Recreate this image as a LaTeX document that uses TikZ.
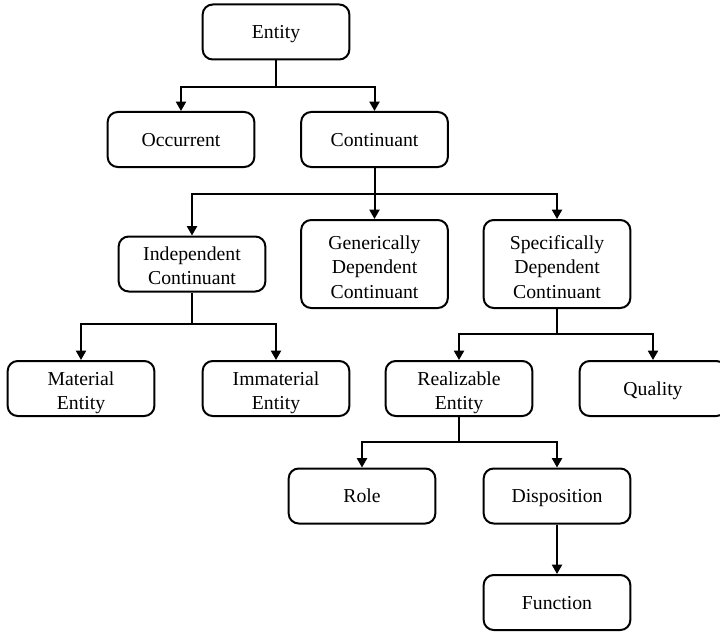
\documentclass[tikz,border=0pt]{standalone}
\usepackage{fontspec}
\setmainfont{Liberation Serif}
\usetikzlibrary{arrows.meta}
\begin{document}
\begin{tikzpicture}[x=0.75pt,y=-0.75pt,
  % text height/depth fix where the baselines sit inside each box
  box/.style={draw, line width=1.5pt, rounded corners=7.5pt, align=center,
    minimum width=110pt, minimum height=41.25pt, inner xsep=2pt, inner ysep=0pt,
    font=\fontsize{14.8}{18.15}\selectfont,
    text height=9.8pt, text depth=0pt},
  multi/.style={box, text height=31.3pt},
  tallbox/.style={box, text height=51pt, minimum height=66pt},
  link/.style={line width=1.5pt},
  arr/.style={link, -{Triangle[length=7pt,width=7.5pt]}}]
\useasboundingbox (0,0) rectangle (720,631);
% nodes
\node[box] (entity) at (276,32) {Entity};
\node[box] (occ) at (181,139.5) {Occurrent};
\node[box] (cont) at (374.5,139.5) {Continuant};
\node[multi] (ind) at (192,264) {Independent\\Continuant};
\node[tallbox] (gen) at (374.5,264) {Generically\\Dependent\\Continuant};
\node[tallbox] (spec) at (557,264) {Specifically\\Dependent\\Continuant};
\node[multi] (mat) at (81,388.5) {Material\\Entity};
\node[multi] (imm) at (276,388.5) {Immaterial\\Entity};
\node[multi] (real) at (459,388.5) {Realizable\\Entity};
\node[box] (qual) at (653,388.5) {Quality};
\node[box] (role) at (362,496) {Role};
\node[box] (disp) at (557,496) {Disposition};
\node[box] (func) at (557,602.5) {Function};
% branching points
\coordinate (j1) at (276,87);
\coordinate (j2) at (374.5,194);
\coordinate (j3) at (192,324);
\coordinate (j4) at (557,333.5);
\coordinate (j5) at (459,442);
% connectors
\draw[link] (entity.south) -- (j1);
\draw[arr] (j1) -| (occ.north);
\draw[arr] (j1) -| (cont.north);
\draw[link] (cont.south) -- (j2);
\draw[arr] (j2) -| (ind.north);
\draw[arr] (j2) -- (gen.north);
\draw[arr] (j2) -| (spec.north);
\draw[link] (ind.south) -- (j3);
\draw[arr] (j3) -| (mat.north);
\draw[arr] (j3) -| (imm.north);
\draw[link] (spec.south) -- (j4);
\draw[arr] (j4) -| (real.north);
\draw[arr] (j4) -| (qual.north);
\draw[link] (real.south) -- (j5);
\draw[arr] (j5) -| (role.north);
\draw[arr] (j5) -| (disp.north);
\draw[arr] (disp.south) -- (func.north);
\end{tikzpicture}
\end{document}
